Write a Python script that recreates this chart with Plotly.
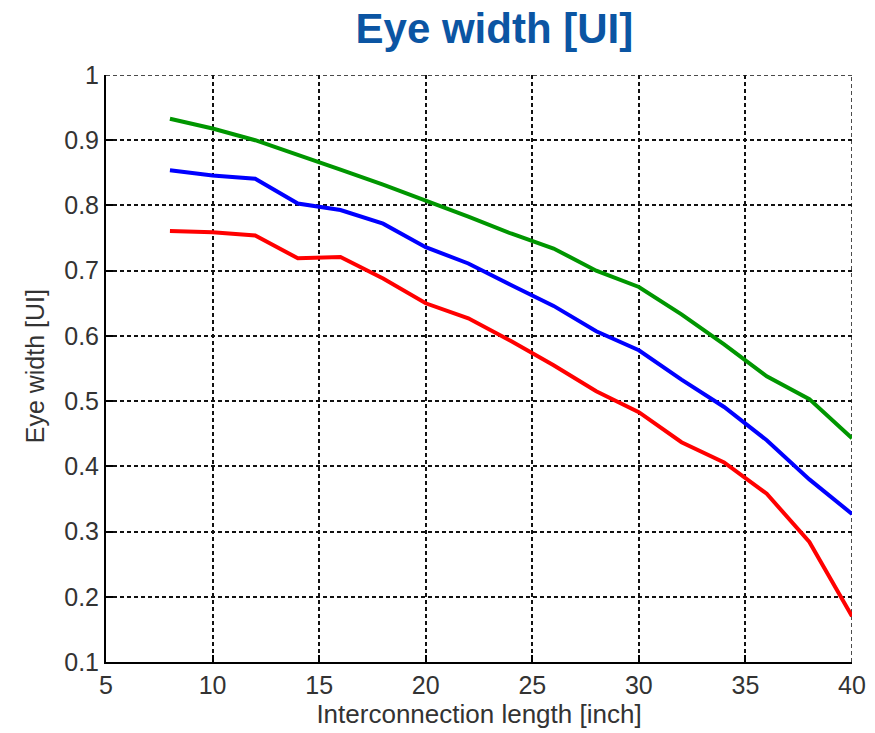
import plotly.graph_objects as go

# Interconnection length [inch]
length_in = [8, 10, 12, 14, 16, 18, 20, 22, 24, 26, 28, 30, 32, 34, 36, 38, 40]

# Eye width [UI] for the three cases
eye_green = [0.933, 0.918, 0.900, 0.878, 0.855, 0.832, 0.808, 0.783, 0.757, 0.734,
             0.700, 0.675, 0.633, 0.587, 0.538, 0.503, 0.443]
eye_blue = [0.854, 0.846, 0.841, 0.803, 0.793, 0.772, 0.736, 0.711, 0.678, 0.646,
            0.607, 0.578, 0.533, 0.491, 0.440, 0.380, 0.327]
eye_red = [0.761, 0.759, 0.754, 0.719, 0.721, 0.688, 0.650, 0.627, 0.592, 0.555,
           0.515, 0.483, 0.437, 0.406, 0.358, 0.284, 0.170]

x_ticks = [5, 10, 15, 20, 25, 30, 35, 40]
y_ticks = [0.1, 0.2, 0.3, 0.4, 0.5, 0.6, 0.7, 0.8, 0.9, 1]
y_tick_text = ["0.1", "0.2", "0.3", "0.4", "0.5", "0.6", "0.7", "0.8", "0.9", "1"]

X_RANGE = [5, 40]
Y_RANGE = [0.1, 1]
GRID_DASH = "4px,3px"
GRID_COLOR = "#111111"

fig = go.Figure()
for ys, col in [(eye_green, "#009600"), (eye_blue, "#0000ff"), (eye_red, "#ff0000")]:
    fig.add_trace(go.Scatter(x=length_in, y=ys, mode="lines",
                             line=dict(color=col, width=4), showlegend=False))

# dashed top and right frame edges, continuing the grid pattern
fig.add_shape(type="line", xref="x", yref="y", x0=X_RANGE[0], x1=X_RANGE[1], y0=Y_RANGE[1], y1=Y_RANGE[1],
              line=dict(color=GRID_COLOR, width=1.5, dash=GRID_DASH), layer="below")
fig.add_shape(type="line", xref="x", yref="y", x0=X_RANGE[1], x1=X_RANGE[1], y0=Y_RANGE[0], y1=Y_RANGE[1],
              line=dict(color=GRID_COLOR, width=1.5, dash=GRID_DASH), layer="below")

axis_font = dict(family="Liberation Sans, Arial, sans-serif", size=25, color="#333333")
xtitle_font = dict(family="Liberation Sans, Arial, sans-serif", size=26, color="#333333")

# y-axis title placed as a rotated annotation left of the tick labels
fig.add_annotation(text="Eye width [UI]", xref="paper", yref="paper", x=-0.095, y=0.504,
                   xanchor="center", yanchor="middle", textangle=-90, showarrow=False,
                   font=axis_font)

fig.update_layout(
    width=875, height=733,
    margin=dict(l=106, r=23, t=75, b=71),
    paper_bgcolor="white", plot_bgcolor="white",
    title=dict(text="<b>Eye width [UI]</b>", x=0.565, xanchor="center", y=0.962, yanchor="middle",
               font=dict(family="Liberation Sans, Arial, sans-serif", size=42, color="#0b55a3")),
    xaxis=dict(range=X_RANGE, tickvals=x_ticks, ticks="inside", ticklen=7, tickcolor="black",
               tickwidth=1.5, automargin=False,
               showline=True, linecolor="black", linewidth=2, mirror=False,
               showgrid=True, gridcolor=GRID_COLOR, gridwidth=1.5, griddash=GRID_DASH,
               zeroline=False, tickfont=axis_font,
               title=dict(text="Interconnection length [inch]", font=xtitle_font, standoff=6)),
    yaxis=dict(range=Y_RANGE, tickvals=y_ticks, ticktext=y_tick_text, ticks="inside", ticklen=7,
               tickcolor="black", tickwidth=1.5, automargin=False,
               showline=True, linecolor="black", linewidth=2, mirror=False,
               showgrid=True, gridcolor=GRID_COLOR, gridwidth=1.5, griddash=GRID_DASH,
               zeroline=False, tickfont=axis_font),
)

fig.write_html("out.html")
